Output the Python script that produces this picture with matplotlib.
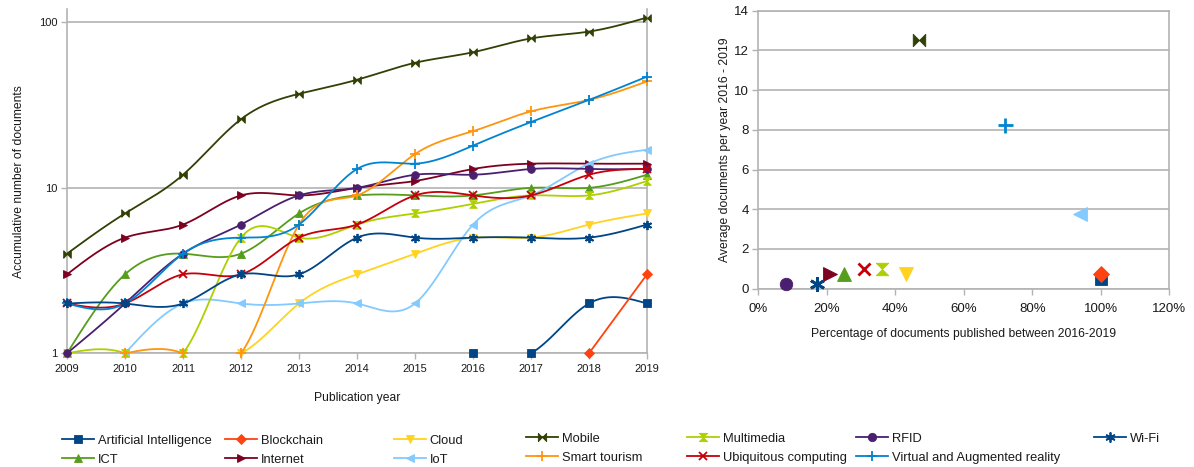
import numpy as np
import matplotlib.pyplot as plt
from matplotlib.lines import Line2D

plt.rcParams['font.family'] = ['Liberation Sans', 'DejaVu Sans']

# ---------------------------------------------------------------- data
years = [2009, 2010, 2011, 2012, 2013, 2014, 2015, 2016, 2017, 2018, 2019]
nan = np.nan

artificial_intelligence = [nan, nan, nan, nan, nan, nan, nan, 1, 1, 2, 2]
blockchain = [nan, nan, nan, nan, nan, nan, nan, nan, nan, 1, 3]
cloud = [nan, nan, 1, 1, 2, 3, 4, 5, 5, 6, 7]
ict = [1, 3, 4, 4, 7, 9, 9, 9, 10, 10, 12]
internet = [3, 5, 6, 9, 9, 10, 11, 13, 14, 14, 14]
iot = [nan, 1, 2, 2, 2, 2, 2, 6, 9, 14, 17]
mobile = [4, 7, 12, 26, 37, 45, 57, 66, 80, 88, 107]
multimedia = [1, 1, 1, 5, 5, 6, 7, 8, 9, 9, 11]
rfid = [1, 2, 4, 6, 9, 10, 12, 12, 13, 13, 13]
smart_tourism = [nan, 1, 1, 1, 6, 9, 16, 22, 29, 34, 44]
ubiquitous_computing = [2, 2, 3, 3, 5, 6, 9, 9, 9, 12, 13]
virtual_augmented_reality = [2, 2, 4, 5, 6, 13, 14, 18, 25, 34, 47]
wifi = [2, 2, 2, 3, 3, 5, 5, 5, 5, 5, 6]

# share of documents published 2016-2019 and mean documents per year 2016-2019
recent_share = {
    'Artificial Intelligence': 1.00, 'Blockchain': 1.00, 'Cloud': 0.43,
    'ICT': 0.25, 'Internet': 0.21, 'IoT': 0.94, 'Mobile': 0.47,
    'Multimedia': 0.36, 'RFID': 0.08, 'Ubiquitous computing': 0.31,
    'Virtual and Augmented reality': 0.72, 'Wi-Fi': 0.17,
}
recent_avg_per_year = {
    'Artificial Intelligence': 0.5, 'Blockchain': 0.75, 'Cloud': 0.75,
    'ICT': 0.75, 'Internet': 0.75, 'IoT': 3.75, 'Mobile': 12.5,
    'Multimedia': 1.0, 'RFID': 0.25, 'Ubiquitous computing': 1.0,
    'Virtual and Augmented reality': 8.25, 'Wi-Fi': 0.25,
}

# ---------------------------------------------------------------- styles
bowtie = [(-1, -1), (-1, 1), (1, -1), (1, 1), (-1, -1)]
sandglass = [(-1, 1), (1, 1), (-1, -1), (1, -1), (-1, 1)]

series = [
    ('Artificial Intelligence', artificial_intelligence, '#004586', 's', 1.0),
    ('Blockchain', blockchain, '#ff420e', 'D', 0.85),
    ('Cloud', cloud, '#ffd320', 'v', 1.05),
    ('ICT', ict, '#579d1c', '^', 1.05),
    ('Internet', internet, '#7e0021', '>', 1.05),
    ('IoT', iot, '#83caff', '<', 1.05),
    ('Mobile', mobile, '#314004', bowtie, 1.0),
    ('Multimedia', multimedia, '#aecf00', sandglass, 1.0),
    ('RFID', rfid, '#4b1f6f', 'o', 1.0),
    ('Smart tourism', smart_tourism, '#ff950e', '+', 1.2),
    ('Ubiquitous computing', ubiquitous_computing, '#c5000b', 'x', 1.0),
    ('Virtual and Augmented reality', virtual_augmented_reality, '#0084d1', '+', 1.2),
    ('Wi-Fi', wifi, '#004586', (6, 2, 0), 1.2),
]


def stroke_width(marker, thin, thick):
    return thick if marker in ('+', 'x') or isinstance(marker, tuple) else thin


def natural_spline(x, y, steps=40):
    """Natural cubic spline through (x, y)."""
    x = np.asarray(x, float)
    y = np.asarray(y, float)
    k = len(x)
    if k < 3:
        t = np.linspace(x[0], x[-1], steps)
        return t, np.interp(t, x, y)
    h = np.diff(x)
    A = np.zeros((k, k))
    b = np.zeros(k)
    A[0, 0] = A[-1, -1] = 1.0
    for i in range(1, k - 1):
        A[i, i - 1] = h[i - 1]
        A[i, i] = 2 * (h[i - 1] + h[i])
        A[i, i + 1] = h[i]
        b[i] = 6 * ((y[i + 1] - y[i]) / h[i] - (y[i] - y[i - 1]) / h[i - 1])
    M = np.linalg.solve(A, b)
    xs, ys = [], []
    for i in range(k - 1):
        t = np.linspace(x[i], x[i + 1], steps)
        a = (x[i + 1] - t) / h[i]
        c = (t - x[i]) / h[i]
        s = a * y[i] + c * y[i + 1] + ((a ** 3 - a) * M[i] + (c ** 3 - c) * M[i + 1]) * h[i] ** 2 / 6
        xs.append(t)
        ys.append(s)
    return np.concatenate(xs), np.concatenate(ys)


GRID = '#b3b3b3'
TEXT = '#1a1a1a'

fig = plt.figure(figsize=(11.94, 4.67), dpi=100)

# ---------------------------------------------------------------- left: cumulative documents
ax = fig.add_axes([67 / 1194, 1 - 353.3 / 467, 580 / 1194, 344 / 467])
ax.set_yscale('log')
for z, (name, vals, color, marker, scale) in enumerate(series):
    yrs = np.array(years, float)
    v = np.array(vals, float)
    ok = ~np.isnan(v)
    sx, sy = natural_spline(yrs[ok], np.log10(v[ok]))
    ax.plot(sx, 10 ** sy, color=color, lw=1.3, zorder=3 + z, solid_capstyle='round')
    ax.plot(yrs[ok], v[ok], linestyle='none', marker=marker, color=color,
            markersize=5.5 * scale, markeredgewidth=stroke_width(marker, 0.6, 1.3),
            clip_on=False, zorder=3 + z)

ax.set_xlim(2009, 2019)
ax.set_ylim(1, 120)
ax.set_xticks(years)
ax.set_xticklabels([str(y) for y in years])
ax.set_yticks([1, 10, 100])
ax.set_yticklabels(['1', '10', '100'])
ax.yaxis.set_minor_locator(plt.NullLocator())
ax.grid(axis='y', color=GRID, lw=1.2)
ax.set_axisbelow(True)
for s in ax.spines.values():
    s.set_color(GRID)
    s.set_linewidth(1.2)
ax.spines['top'].set_visible(False)
ax.tick_params(axis='both', colors=GRID, labelcolor=TEXT, labelsize=8, length=4, width=1, pad=3)
ax.tick_params(axis='x', pad=4)
ax.set_xlabel('Publication year', fontsize=8.7, color=TEXT, labelpad=13)
ax.set_ylabel('Accumulative number of documents', fontsize=8.7, color=TEXT, labelpad=10)

# ---------------------------------------------------------------- right: recent activity
ax2 = fig.add_axes([758.3 / 1194, 1 - 288.7 / 467, 411 / 1194, 278 / 467])
for z, (name, vals, color, marker, scale) in enumerate(series):
    if name not in recent_share:
        continue
    ax2.plot([recent_share[name]], [recent_avg_per_year[name]], linestyle='none',
             marker=marker, color=color, markersize=9 * scale,
             markeredgewidth=stroke_width(marker, 0.6, 2),
             clip_on=False, zorder=3 + z)
share_ticks = np.arange(0, 1.21, 0.2)
ax2.set_xlim(0, 1.2)
ax2.set_ylim(0, 14)
ax2.set_xticks(share_ticks)
ax2.set_xticklabels([f'{int(round(v * 100))}%' for v in share_ticks])
ax2.set_yticks(np.arange(0, 15, 2))
ax2.grid(axis='y', color=GRID, lw=1.2)
ax2.set_axisbelow(True)
for s in ax2.spines.values():
    s.set_color(GRID)
    s.set_linewidth(1.2)
ax2.tick_params(axis='both', colors=GRID, labelcolor=TEXT, labelsize=9.5, length=4, width=1, pad=3)
ax2.tick_params(axis='x', pad=6.5)
ax2.set_xlabel('Percentage of documents published between 2016-2019', fontsize=8.7, color=TEXT, labelpad=9.5)
ax2.set_ylabel('Average documents per year 2016 - 2019', fontsize=8.7, color=TEXT, labelpad=2)

# ---------------------------------------------------------------- legend, seven columns
handles = {}
for name, vals, color, marker, scale in series:
    handles[name] = Line2D([], [], color=color, lw=1.3, marker=marker, markersize=6 * scale,
                           markeredgewidth=stroke_width(marker, 0.6, 1.3))

columns = [
    (62, 438.5, ['Artificial Intelligence', 'ICT']),
    (225, 438.5, ['Blockchain', 'Internet']),
    (394, 438.5, ['Cloud', 'IoT']),
    (526, 436.5, ['Mobile', 'Smart tourism']),
    (687, 436.5, ['Multimedia', 'Ubiquitous computing']),
    (856, 436.5, ['RFID', 'Virtual and Augmented reality']),
    (1094, 436.5, ['Wi-Fi']),
]
for x0, y0, names in columns:
    leg = fig.legend([handles[n] for n in names], names, loc='upper left',
                     bbox_to_anchor=(x0 / 1194, 1 - (y0 - 4) / 467),
                     frameon=False, fontsize=9.3, borderpad=0, borderaxespad=0,
                     handlelength=2.45, handletextpad=0.3, labelspacing=0.55)
    for t in leg.get_texts():
        t.set_color(TEXT)

fig.savefig('out.png', dpi=100)
